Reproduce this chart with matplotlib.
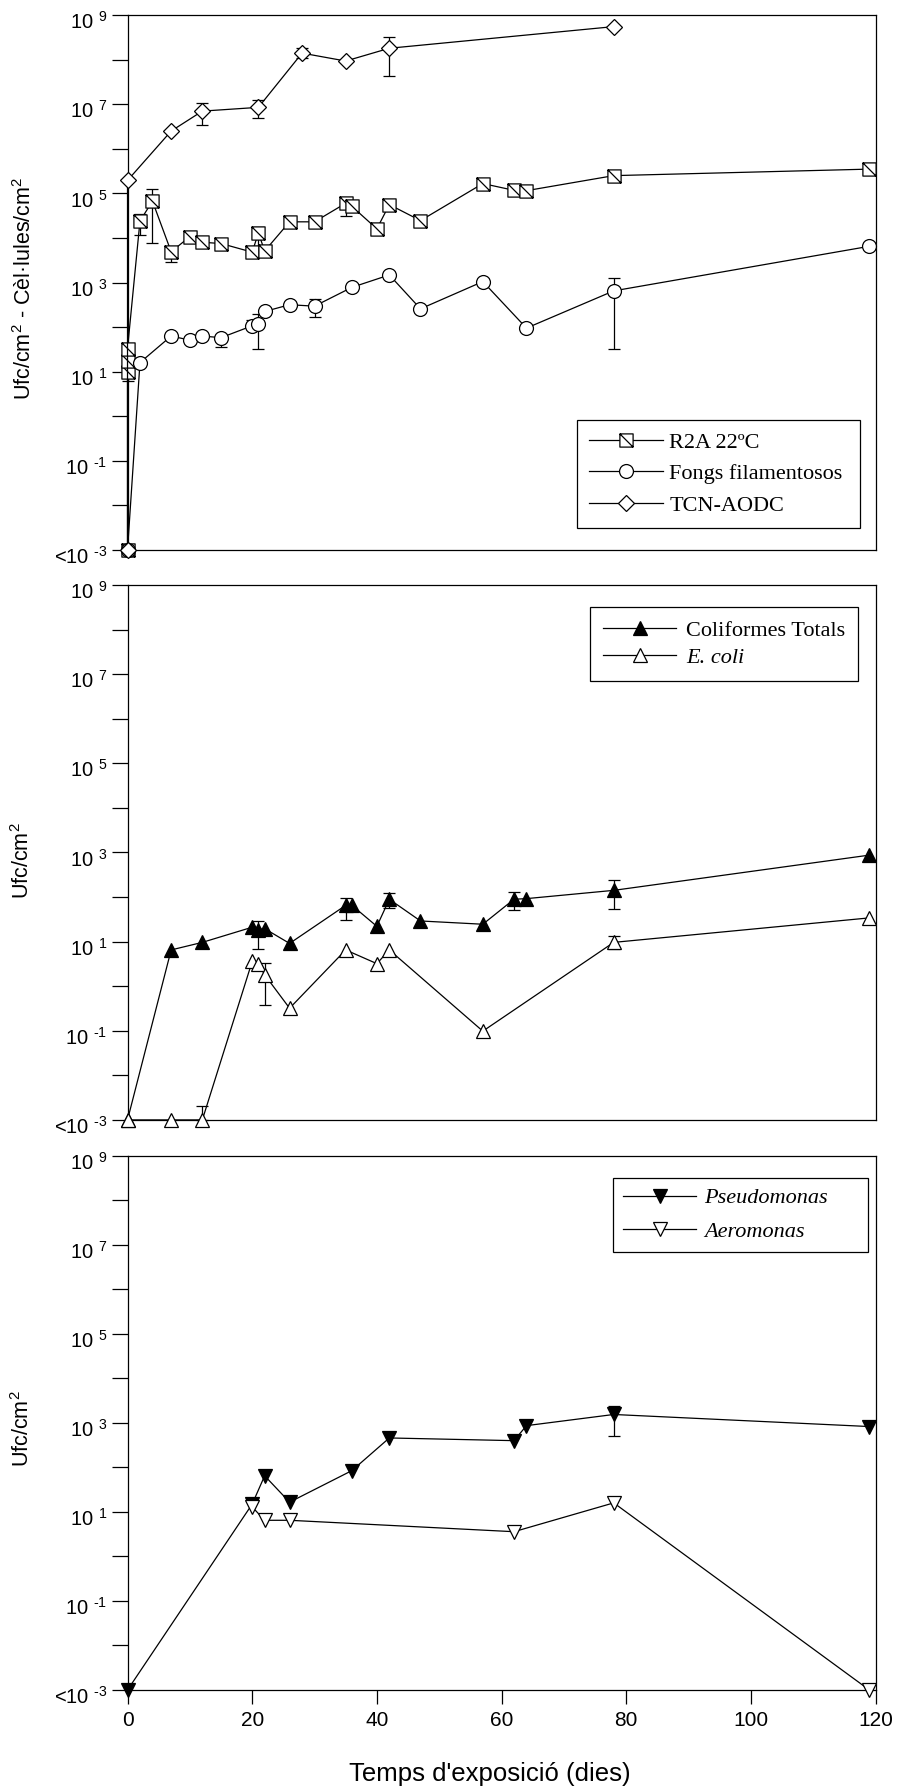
import numpy as np
import matplotlib
matplotlib.use("Agg")
import matplotlib.pyplot as plt
from matplotlib.path import Path
from matplotlib.transforms import ScaledTranslation

plt.rcParams['font.family'] = ['Liberation Sans', 'DejaVu Sans']
plt.rcParams['mathtext.fontset'] = 'custom'
plt.rcParams['mathtext.rm'] = 'Liberation Sans'
plt.rcParams['mathtext.it'] = 'Liberation Sans:italic'

# ---- panell 1: R2A, fongs, TCN-AODC ----
r2a_dies = [0, 0, 0, 0, 2, 4, 7, 10, 12, 15, 20, 21, 22, 26, 30, 35, 36, 40, 42, 47, 57, 62, 64, 78, 119]
r2a_val = [1e-3, 10, 17, 33, 2.4e4, 6.7e4, 4.9e3, 1.07e4, 8e3, 7.5e3, 4.8e3, 1.3e4, 5.1e3, 2.3e4,
           2.3e4, 6e4, 5.1e4, 1.6e4, 5.6e4, 2.45e4, 1.66e5, 1.17e5, 1.15e5, 2.5e5, 3.5e5]
r2a_err_dies = [0, 2, 4, 7, 15, 21, 35]
r2a_err_val = [10, 2.4e4, 6.7e4, 4.9e3, 7.5e3, 1.3e4, 6e4]
r2a_err_lo = [6.3, 1.17e4, 7.8e3, 2.9e3, 6.2e3, 6.5e3, 3.1e4]
r2a_err_hi = [10, 3.5e4, 1.26e5, 4.9e3, 7.5e3, 1.8e4, 8e4]

fongs_dies = [0, 2, 7, 10, 12, 15, 20, 21, 22, 26, 30, 36, 42, 47, 57, 64, 78, 119]
fongs_val = [1e-3, 16, 63, 51, 63, 58, 107, 115, 224, 318, 295, 780, 1480, 257, 1050, 95, 650, 6500]
fongs_err_dies = [15, 20, 21, 30, 78]
fongs_err_val = [58, 107, 115, 295, 650]
fongs_err_lo = [36, 107, 32, 170, 32]
fongs_err_hi = [58, 145, 195, 417, 1290]

tcn_dies = [0, 0, 7, 12, 21, 28, 35, 42, 78]
tcn_val = [1e-3, 1.95e5, 2.5e6, 7e6, 8.5e6, 1.4e8, 9.3e7, 1.8e8, 5.5e8]
tcn_err_dies = [12, 21, 28, 42]
tcn_err_val = [7e6, 8.5e6, 1.4e8, 1.8e8]
tcn_err_lo = [3.4e6, 4.8e6, 1.07e8, 4.4e7]
tcn_err_hi = [1.07e7, 1.23e7, 1.8e8, 3.2e8]

# ---- panell 2: coliformes ----
coli_tot_dies = [0, 7, 12, 20, 21, 22, 26, 35, 36, 40, 42, 47, 57, 62, 64, 78, 119]
coli_tot_val = [1e-3, 6.5, 9.6, 21, 18.6, 19.5, 9.1, 65, 65, 22, 89, 29, 24.5, 89, 92, 141, 870]
coli_tot_err_dies = [21, 35, 42, 62, 78]
coli_tot_err_val = [18.6, 65, 89, 89, 141]
coli_tot_err_lo = [6.8, 30, 56, 50, 54]
coli_tot_err_hi = [29, 93, 126, 132, 240]

ecoli_dies = [0, 7, 12, 20, 21, 22, 26, 35, 40, 42, 57, 78, 119]
ecoli_val = [1e-3, 1e-3, 1e-3, 3.6, 3.2, 1.8, 0.32, 6.5, 3.2, 6.5, 0.098, 9.6, 34]
ecoli_err_dies = [12, 22, 78]
ecoli_err_val = [1e-3, 1.8, 9.6]
ecoli_err_lo = [1e-3, 0.37, 6.8]
ecoli_err_hi = [2e-3, 3.3, 13.2]

# ---- panell 3: Pseudomonas / Aeromonas ----
pseudo_dies = [0, 20, 22, 26, 36, 42, 62, 64, 78, 119]
pseudo_val = [1e-3, 15, 65, 16.6, 85, 460, 400, 870, 1550, 830]
pseudo_err_dies = [78]
pseudo_err_val = [1550]
pseudo_err_lo = [510]
pseudo_err_hi = [2400]

aero_dies = [20, 22, 26, 62, 78, 119]
aero_val = [13, 6.5, 6.5, 3.6, 16, 1e-3]

# quadrat amb diagonal
sq_diag = Path([(-1, -1), (1, -1), (1, 1), (-1, 1), (-1, -1), (-1, 1), (1, -1)],
               [Path.MOVETO, Path.LINETO, Path.LINETO, Path.LINETO, Path.CLOSEPOLY,
                Path.MOVETO, Path.LINETO])

ymaj = [1e-3, 1e-1, 1e1, 1e3, 1e5, 1e7, 1e9]
ymaj_lab = ['<$\\mathregular{10\\ ^{\\text{-}3}}$', '$\\mathregular{10\\ ^{\\text{-}1}}$',
            '$\\mathregular{10\\ ^{1}}$', '$\\mathregular{10\\ ^{3}}$', '$\\mathregular{10\\ ^{5}}$',
            '$\\mathregular{10\\ ^{7}}$', '$\\mathregular{10\\ ^{9}}$']
ymin = [1e-2, 1e0, 1e2, 1e4, 1e6, 1e8]


def serie(ax, x, y, marker, fc, ms, label):
    ax.plot(x, y, color='black', lw=0.9, marker=marker, mfc=fc, mec='black', ms=ms,
            mew=0.9, clip_on=False, label=label, zorder=3)


def barres(ax, x, y, lo, hi):
    y = np.array(y)
    ax.errorbar(x, y, yerr=[y - np.array(lo), np.array(hi) - y], fmt='none', ecolor='black',
                elinewidth=0.9, capsize=4, capthick=0.9, clip_on=False, zorder=2)


def eixos(ax, bottom_ticks):
    ax.set_yscale('log')
    ax.set_ylim(1e-3, 1e9)
    ax.set_xlim(0, 120)
    ax.set_yticks(ymaj, ymaj_lab)
    ax.set_yticks(ymin, minor=True)
    ax.yaxis.set_minor_formatter(matplotlib.ticker.NullFormatter())
    ax.tick_params(axis='y', which='both', direction='out', length=11.5, width=0.9,
                   labelsize=14.5, pad=3, right=False)
    # etiquetes una mica per sota de la marca, com a l'original
    off = ScaledTranslation(0, -5 / 100, fig.dpi_scale_trans)
    for lab in ax.get_yticklabels():
        lab.set_transform(lab.get_transform() + off)
    ax.set_xticks([0, 20, 40, 60, 80, 100, 120])
    if bottom_ticks:
        ax.tick_params(axis='x', direction='out', length=10, width=0.9, labelsize=15, pad=5, top=False)
    else:
        ax.tick_params(axis='x', bottom=False, top=False, labelbottom=False)
    for s in ax.spines.values():
        s.set_linewidth(0.9)


def llegenda(ax, loc, box, italics, lspace, bpad, tpad):
    leg = ax.legend(loc=loc, bbox_to_anchor=box, mode='expand', fancybox=False, edgecolor='black',
                    framealpha=1, numpoints=1, handlelength=3.3, handletextpad=tpad,
                    borderpad=bpad, labelspacing=lspace, borderaxespad=0,
                    prop={'family': 'Liberation Serif', 'size': 16})
    leg.get_frame().set_linewidth(0.9)
    for i in italics:
        leg.get_texts()[i].set_fontstyle('italic')
    return leg


fig = plt.figure(figsize=(8.98, 17.91), dpi=100)
ax1 = fig.add_axes([0.1420, 0.6929, 0.833, 0.2987])
ax2 = fig.add_axes([0.1420, 0.3747, 0.833, 0.2987])
ax3 = fig.add_axes([0.1420, 0.0564, 0.833, 0.2982])

# panell 1
barres(ax1, r2a_err_dies, r2a_err_val, r2a_err_lo, r2a_err_hi)
barres(ax1, fongs_err_dies, fongs_err_val, fongs_err_lo, fongs_err_hi)
barres(ax1, tcn_err_dies, tcn_err_val, tcn_err_lo, tcn_err_hi)
serie(ax1, r2a_dies, r2a_val, sq_diag, 'white', 9.5, 'R2A 22ºC')
serie(ax1, fongs_dies, fongs_val, 'o', 'white', 10, 'Fongs filamentosos')
serie(ax1, tcn_dies, tcn_val, 'D', 'white', 8, 'TCN-AODC')
eixos(ax1, False)
ax1.set_ylabel('Ufc/cm$^2$ - Cèl·lules/cm$^2$', fontsize=15.5)
ax1.yaxis.set_label_coords(-0.123, 0.49)
llegenda(ax1, 'lower left', (0.601, 0.041, 0.3776, 0.25), [], 0.5, 0.55, 0.3)

# panell 2
barres(ax2, coli_tot_err_dies, coli_tot_err_val, coli_tot_err_lo, coli_tot_err_hi)
barres(ax2, ecoli_err_dies, ecoli_err_val, ecoli_err_lo, ecoli_err_hi)
serie(ax2, coli_tot_dies, coli_tot_val, '^', 'black', 10, 'Coliformes Totals')
serie(ax2, ecoli_dies, ecoli_val, '^', 'white', 10, 'E. coli')
eixos(ax2, False)
ax2.set_ylabel('Ufc/cm$^2$', fontsize=15.5)
ax2.yaxis.set_label_coords(-0.125, 0.485)
llegenda(ax2, 'upper left', (0.618, 0.709, 0.359, 0.25), [1], 0.3, 0.6, 0.45)

# panell 3
barres(ax3, pseudo_err_dies, pseudo_err_val, pseudo_err_lo, pseudo_err_hi)
serie(ax3, pseudo_dies, pseudo_val, 'v', 'black', 10, 'Pseudomonas')
serie(ax3, aero_dies, aero_val, 'v', 'white', 10, 'Aeromonas')
eixos(ax3, True)
ax3.set_ylabel('Ufc/cm$^2$', fontsize=15.5)
ax3.yaxis.set_label_coords(-0.125, 0.49)
llegenda(ax3, 'upper left', (0.649, 0.709, 0.341, 0.25), [0, 1], 0.6, 0.45, 0.35)

fig.text(0.545, 0.0095, "Temps d'exposició (dies)", ha='center', va='center', fontsize=18.5)

fig.savefig('out.png', dpi=100)
